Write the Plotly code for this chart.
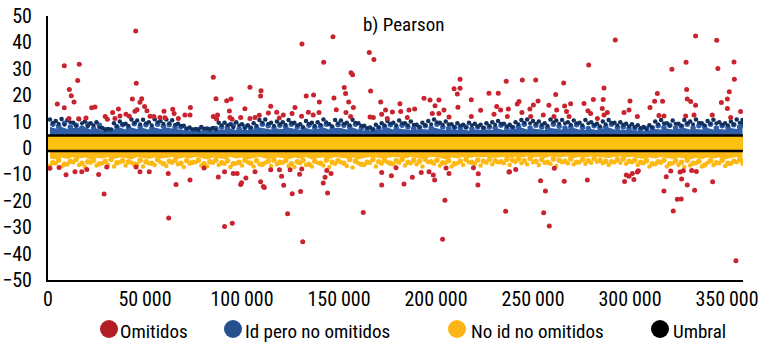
import plotly.graph_objects as go

FONT = "Roboto Condensed, Liberation Sans Narrow, Arial Narrow, Roboto, sans-serif"

# values: x in thousands of observations, y = Pearson residual
red_x = [4.8,8.4,8.4,11,12,10.8,13.4,16.1,15.3,15.8,19.6,22.5,24.2,29.5,30.6,33.3,34.5,36.3,37.1,40.2,41.9,43.5,45.2,45.5,44.8,45.9,48.3,47.4,49.8,51,52.6,54.6,57.7,59.8,60.3,64.3,65,67.2,70.6,73.4,73.2,85.2,86.6,85.2,87.4,86.9,92.1,94.3,93.5,93.8,94.9,99.3,101.5,104.1,104.1,106.7,108.9,109.8,109.6,113.6,114.8,117.9,119.2,121.3,125.8,127.3,130.7,130.9,133.1,134.2,136.9,136.7,139.7,139.9,142.1,146.9,147.4,148.6,152.7,153.4,155,153.6,156,157.4,156.2,157,165.6,168,166.3,166,167.7,171.5,172,
         174,177.5,181.4,181.8,186.1,189,174.9,185.2,193.8,196.9,201.5,199.5,198.1,204.1,201.5,206.7,212.4,209.3,212.4,211,211.3,218.2,218.2,223,227.3,232.1,236.2,231.3,233.3,229.9,237.3,236.8,244.5,251.4,242.8,241.9,244.3,248.4,252.6,250.2,248.8,255.3,258.2,261.7,265.8,262.2,260.8,266.3,269.4,267.3,268.6,276.3,278.7,281.1,278.3,279.7,283.2,286.6,286.2,285.7,286.6,288.3,292.4,296.9,299.5,300,303.8,310.3,312.7,316.8,314.1,314.9,317.5,321.6,328.9,333.8,344.7,345.3,353.6,353.8,329.2,329.5,331.3,333.8,328.7,333,342.4,347.1,350.2,351.2,350.2,351.9,357,
         9.3,13.9,17.4,26.1,28.9,47.4,52.2,62,66,73.2,62.2,87.8,91,95.5,97.5,99.3,99.8,102,106.7,109.6,111.5,111,120.4,121.5,125.9,129.7,130.2,123.5,91,95,131.3,141.9,142.8,144.1,145.9,172,172,162.5,
         177,183.5,187.8,192.4,196.4,198.6,199.3,206.7,204.6,203.4,221.8,221.6,237.6,235.9,253.9,256.4,255.5,258.4,266.1,278,297.2,298.1,299.5,302,301.2,303.8,318.7,317.5,322.3,324.4,326.4,326.6,329.5,333.3,325.8,321,334.2,342.6,354.6,
         1,5.7,20,30.3,45.4,80.4,114.8,119.3,124.8,130.8,143.7,179.4,205.2,219.3,237.9,241.1,261,304.3,327.5,331.8]
red_y = [16.7,31.2,15.2,22.2,19.8,11.2,17.4,31.7,25.6,11.1,11.4,15.2,15.5,11.9,10.9,13.4,11.2,14.8,12.1,12.8,12,18.6,44.3,24.5,13.9,14.5,18.7,17.3,15.7,14.1,12,11.9,11.6,13.9,11.5,14.7,13.1,11.2,12.5,15.3,12.5,26.8,18.7,11.9,12.5,11,17.9,18.6,14,11.6,10.9,11.6,14.9,23,11.2,11.6,12.4,21.7,19.7,13.3,15.8,13.5,11.4,12.5,13.1,15.3,12,39.4,19.7,13.5,20.1,12.5,13.4,17.4,32.5,42.1,18.9,14.5,22.9,20.6,17.4,13.4,11.9,15.3,28.5,27.7,36.2,33.5,21.6,11.7,11.6,17.4,12.8,
         14.4,13.6,16.8,13.8,14.4,14.8,11.2,11.6,18.8,18.2,18.2,16,13.1,14.4,13.1,11.7,26,22.4,22.6,20.5,15.4,18.3,11.9,14.3,20.7,20.7,25.3,15.7,14.4,12.8,14.8,11.9,25.8,25.8,17.6,16.7,13.4,14.8,17.8,16.3,11.9,12.5,16.2,20.3,24.6,14.4,11.9,15.9,16.8,13.8,11.9,16.9,31.4,18.4,14.1,13.1,11.2,22.7,18.4,15,12.5,13.4,40.9,13.4,14.4,17.8,11.9,15.3,17.7,17.7,20.6,12.3,12.1,29.8,32.5,42.4,40.8,30.1,32.6,26,22.2,18.6,17.6,16.2,12.1,12.5,12.5,17.2,18.6,21.3,15,11.6,13.8,
         -10.1,-9,-9,-10,-17.4,-9,-9,-9.7,-13.8,-12.1,-26.5,-11,-9,-9.7,-9.7,-13.8,-13.2,-11.4,-9,-12.8,-15,-14.6,-10.7,-14.1,-17.3,-9.9,-16.5,-24.9,-29.7,-28.5,-35.5,-13.3,-11.1,-17,-9.7,-9.3,-14,-24.4,
         -10.5,-13.6,-11.1,-9.3,-9,-10.2,-12.1,-9.7,-19.8,-34.6,-9.8,-14,-9.1,-24,-12.4,-16.3,-24.5,-29.5,-12.6,-12.1,-12.7,-10.2,-10.7,-11.9,-9.7,-9.1,-10.9,-16.3,-23.9,-19.4,-19.3,-11.7,-14,-16,-9.1,-8.7,-8.9,-12.8,-42.7,
         -7.7,-7.4,-8.1,-7.2,-7.2,-7.6,-8.2,-8.2,-8.2,-8,-8.5,-7.45,-7.6,-7.45,-9,-8.1,-7.7,-8.6,-8.6,-8.5]

dot_x = [1,4,7,10,13,16,19,22,25,28,31,34,37,40,43,46,49,52,55,58,61,64,67,70,73,76,79,82,85,88,91,94,97,100,103,106,109,112,115,118,
         121,124,127,130,133,136,139,142,145,148,151,154,157,160,163,166,169,172,175,178,181,184,187,190,193,196,199,202,205,208,211,214,217,220,223,226,229,232,235,238,
         241,244,247,250,253,256,259,262,265,268,271,274,277,280,283,286,289,292,295,298,301,304,307,310,313,316,319,322,325,328,331,334,337,340,343,346,349,352,355,358]
dot_x2 = [2.5,5.5,8.5,11.5,14.5,17.5,20.5,23.5,26.5,29.5,32.5,35.5,38.5,41.5,44.5,47.5,50.5,53.5,56.5,59.5,62.5,65.5,68.5,71.5,74.5,77.5,80.5,83.5,86.5,89.5,92.5,95.5,98.5,101.5,104.5,107.5,110.5,113.5,116.5,119.5,
          122.5,125.5,128.5,131.5,134.5,137.5,140.5,143.5,146.5,149.5,152.5,155.5,158.5,161.5,164.5,167.5,170.5,173.5,176.5,179.5,182.5,185.5,188.5,191.5,194.5,197.5,200.5,203.5,206.5,209.5,212.5,215.5,218.5,221.5,224.5,227.5,230.5,233.5,236.5,239.5,
          242.5,245.5,248.5,251.5,254.5,257.5,260.5,263.5,266.5,269.5,272.5,275.5,278.5,281.5,284.5,287.5,290.5,293.5,296.5,299.5,302.5,305.5,308.5,311.5,314.5,317.5,320.5,323.5,326.5,329.5,332.5,335.5,338.5,341.5,344.5,347.5,350.5,353.5,356.5,358.2]

blue_top = [10.8,10.2,11,10.6,9.6,10.9,10,9.4,9.8,7.6,7.2,9.4,10,9.2,10.8,10.4,10.7,9.8,10.9,10.2,10.8,10.5,9.2,8.4,7.8,7.2,8,7.4,7.6,9.6,9.6,9,9.8,9,8.6,9.4,10.6,10.8,9.6,10,
            9.8,10.6,9.6,9,10.2,9.6,9.8,10.8,9,10.6,10.4,9.6,10.7,9.4,8.4,7.8,8.8,9.4,10.2,9.6,10.4,9.4,10,8.8,9.6,10.2,10.8,9.6,10,9,9.4,8.8,9.6,9.2,8.8,9.4,9.8,10.2,9.2,8.8,
            9.8,10.6,10.8,10.2,10,9.4,10.8,10.4,10.6,9.8,10.4,9.6,10.6,9.8,9.2,10,10.6,9.6,9.8,9.2,9,8.6,8,8.6,10,10.6,9.4,10.4,9.2,10.6,10,10.8,9.4,10.2,10.7,9.8,9.4,10,10.8,10.6]
blue_dark2 = [9.6,9.2,8.8,9.8,8.4,9.4,8.2,8.6,7.8,6.8,7,8.2,9,8.4,9.6,9,9.4,8.6,9.8,9.2,9.4,8.8,8.4,7.4,7,6.8,7.4,7,7,8.6,8.6,7.8,8.6,7.6,7.8,8.4,9.6,9.2,8.4,9,
              8.8,9.6,8.6,8,9.2,8.4,8.8,9.8,8.2,9.4,9.2,8.6,9.6,8.4,7.6,7,8,8.6,9.2,8.6,9.4,8.6,8.8,8,8.6,9,9.8,8.8,9,8,8.4,7.8,8.6,8.2,7.8,8.4,8.8,9.2,8.2,8,
              9,9.6,9.4,9.2,8.8,8.4,9.8,9.2,9.4,8.8,9.4,8.6,9.4,8.8,8.2,9,9.6,8.6,8.8,8.2,8,7.6,7.2,7.8,9,9.4,8.4,9.2,8.4,9.4,9,9.6,8.6,9.2,9.4,8.8,8.6,9,9.6,9.4]
blue_mid = [9,8.2,9.4,8,8.6,7.6,9,7.4,8.6,7,6.8,8,8.8,7.6,9.2,8,8.8,7.4,9,8.2,8.8,7.8,8,7,6.8,7,6.8,7,7.4,8,7.6,8.6,7.2,8,7.4,7.6,9,8.4,7.6,8.6,
            8,9,8,7.4,8.6,7.8,8.2,9,7.4,8.8,8.6,8,9,7.6,7,7,7.4,8,8.8,7.6,8.6,8,7.4,7.8,8.4,7.6,9,8,7.4,7.8,7.6,8,7.2,8,7.4,8,7.6,8.6,7.4,7.8,
            8,9,7.6,8.6,8,7.6,9,8.2,7.6,8,8.8,7.8,7.4,8.4,7.6,8,9,7.8,8,7.4,7.6,7,7.4,7.6,8.4,7.8,8.6,7.6,8.2,9,7.6,8.4,8,9,7.6,8.4,7.8,8.8,8,8.6]
blue_edge = [8,7.4,8,7.2,7.6,7.8,8,7,7.4,6.6,6.4,7,7.8,7,7.8,7.2,7.6,7,7.8,7.2,7.8,7.4,7,6.6,6.4,6.6,6.4,6.6,6.6,7,7,7.4,6.8,7,6.8,7,7.8,7.4,7,7.4,
             7.2,7.8,7.2,6.8,7.6,7,7.2,7.8,7,7.6,7.6,7,7.8,7,6.6,6.4,6.8,7,7.8,7,7.4,7,6.8,7,7.2,7,7.8,7.2,6.8,7,6.8,7,6.6,7,6.8,7,6.8,7.4,6.8,7,
             7.2,7.8,7,7.4,7,6.8,7.6,7.2,7,7.2,7.6,7,6.8,7.2,6.8,7.2,7.8,7,7,6.8,6.8,6.6,6.4,6.8,7.2,7,7.4,7,7.2,7.6,7,7.2,7,7.6,7,7.2,7,7.6,7.2,7.6]

yellow_edge = [-4,-4.4,-3.6,-4.2,-3.4,-4,-3.6,-4.4,-3.8,-4,-3.4,-4.2,-3.6,-3.8,-4.4,-3.4,-3.8,-4.2,-3.6,-4,-3.8,-3.4,-4.2,-3.6,-4,-3.4,-3.8,-4.4,-3.6,-3.8,-4.2,-3.4,-4,-3.6,-4.4,-3.8,-3.4,-4,-4.2,-3.6,
               -3.8,-4.4,-3.6,-4,-3.4,-4.4,-3.8,-3.6,-4.2,-3.4,-3.8,-4,-3.6,-4.4,-3.8,-3.4,-3.6,-4,-3.8,-3.4,-3.6,-4,-3.4,-3.8,-4.2,-3.6,-3.4,-3.8,-4.4,-3.6,-4,-3.4,-3.8,-3.4,-3.6,-3.4,-3.8,-3.6,-3.4,-3.8,
               -3.4,-3.6,-3.2,-3.6,-3.4,-3.8,-3.2,-3.6,-3.4,-3.2,-3.8,-3.4,-3.6,-3.2,-3.4,-3.6,-3.8,-3.4,-3.2,-3.6,-3.4,-3.8,-4.2,-3.6,-4,-3.4,-3.8,-4.2,-3.6,-4,-4.4,-3.8,-4.2,-3.6,-4,-3.6,-4.4,-3.8,-3.4,-3.6]
yellow_mid = [-5.6,-4.6,-6.2,-5,-4.4,-5.8,-5.2,-4.6,-6,-5,-4.4,-5.6,-4.8,-5.2,-6.2,-4.6,-5.2,-5.8,-4.4,-6,-5,-4.6,-5.8,-4.8,-5.4,-4.6,-6,-5.2,-4.6,-5.6,-4.8,-6,-5.4,-4.6,-5.8,-4.8,-6.2,-5,-4.6,-5.4,
              -4.8,-6,-5.2,-4.6,-6.2,-5,-5.8,-4.6,-5.4,-4.8,-5.8,-4.4,-5,-6.2,-5.4,-4.4,-5.2,-4.6,-5.8,-4.8,-4.4,-5.4,-4.6,-5,-4.4,-5.2,-4.6,-5.6,-4.8,-6,-5,-4.4,-5.4,-4.6,-5,-4.4,-4.8,-5.2,-4.4,-4.6,
              -4.2,-4.8,-4,-5,-4.4,-5.4,-4.2,-4.6,-5,-4.2,-5.4,-4.4,-4.8,-4,-4.6,-5,-5.2,-4.4,-4.2,-5,-4.6,-5.4,-4.8,-6,-5.2,-4.6,-6,-4.8,-5.4,-4.6,-5.8,-5,-6.4,-4.8,-5.6,-4.6,-5.8,-5,-4.4,-4.8]
yellow_low = [-6.8,-5.8,-7,-6.2,-5.4,-6.4,-7.2,-5.6,-6.6,-5.8,-6.4,-7,-5.4,-6.6,-5.6,-6.2,-7,-5.8,-6.4,-5.4,-6.8,-5.6,-6.2,-7.2,-6,-5.4,-6.6,-7,-5.6,-6.4,-6,-7.2,-5.8,-6.6,-5.4,-7,-6.2,-5.6,-6.8,-6.2,
              -5.6,-6.8,-7.2,-5.8,-6.4,-7,-5.6,-6.6,-7.2,-6,-5.4,-6.8,-7.4,-5.8,-6.4,-5.6,-7,-6,-5.4,-6.2,-5.6,-6.6,-5.8,-6.2,-7,-5.4,-6,-6.6,-5.6,-7,-5.8,-6.4,-5.4,-6,-6.6,-5.6,-6.2,-5.4,-5.8,-6.4,
              -5.2,-5.8,-6.2,-5.4,-6.4,-5.6,-6,-6.8,-5.4,-5.8,-6.2,-5.4,-6,-5.6,-5.2,-5.8,-6.4,-5.4,-5.6,-6,-5.4,-6.4,-5.8,-7,-6.2,-5.6,-7,-5.8,-6.4,-7.2,-6.6,-5.8,-7,-5.6,-6.4,-5.8,-6.8,-6,-5.4,-6]

umbral_x = [0, 358.2]
umbral_hi = [4.7, 4.7]
umbral_lo = [-1.1, -1.1]

x_ticks = [0, 50000, 100000, 150000, 200000, 250000, 300000, 350000]
x_labels = ["0", "50\u2009000", "100\u2009000", "150\u2009000", "200\u2009000", "250\u2009000", "300\u2009000", "350\u2009000"]
y_ticks = [50, 40, 30, 20, 10, 0, -10, -20, -30, -40, -50]
y_labels = ["50", "40", "30", "20", "10", "0", "\u221210", "\u221220", "\u221230", "\u221240", "\u221250"]

legend_names = ["Omitidos", "Id pero no omitidos", "No id no omitidos", "Umbral"]
legend_colors = ["#B31E25", "#27508F", "#FDB515", "#000000"]
legend_dot_px = [109, 233, 457, 660]
legend_text_px = [120, 245, 471, 673]

RED, BLUE, NAVY, YEL, YEL2 = "#C8232E", "#2F5DA6", "#12305C", "#FDB913", "#FDC20F"

def k(v):
    return [a * 1000 for a in v]

fig = go.Figure()
fig.add_trace(go.Scatter(x=k(dot_x), y=blue_edge, mode="lines", fill="tozeroy", fillcolor=BLUE,
                         line=dict(color=BLUE, width=0), name="Id pero no omitidos (masa)", showlegend=False))
fig.add_trace(go.Scatter(x=k(dot_x2), y=blue_mid, mode="markers", marker=dict(color=BLUE, size=5.5),
                         name="Id pero no omitidos", showlegend=False))
fig.add_trace(go.Scatter(x=k(dot_x2), y=blue_dark2, mode="markers", marker=dict(color=NAVY, size=4),
                         name="Id pero no omitidos", showlegend=False))
fig.add_trace(go.Scatter(x=k(dot_x), y=blue_top, mode="markers", marker=dict(color=NAVY, size=4.5),
                         name="Id pero no omitidos", showlegend=False))
fig.add_trace(go.Scatter(x=k(dot_x), y=yellow_edge, mode="lines", fill="tozeroy", fillcolor=YEL,
                         line=dict(color=YEL, width=0), name="No id no omitidos (masa)", showlegend=False))
fig.add_trace(go.Scatter(x=k(dot_x2), y=yellow_mid, mode="markers", marker=dict(color=YEL, size=5.5),
                         name="No id no omitidos", showlegend=False))
fig.add_trace(go.Scatter(x=k(dot_x), y=yellow_low, mode="markers", marker=dict(color=YEL, size=4.5),
                         name="No id no omitidos", showlegend=False))
fig.add_trace(go.Scatter(x=k(red_x), y=red_y, mode="markers", marker=dict(color=RED, size=5),
                         name="Omitidos", showlegend=False))
fig.add_trace(go.Scatter(x=k(umbral_x), y=umbral_hi, mode="lines", line=dict(color="#000000", width=2.5),
                         name="Umbral", showlegend=False))
fig.add_trace(go.Scatter(x=k(umbral_x), y=umbral_lo, mode="lines", line=dict(color="#000000", width=2.5),
                         fill="tonexty", fillcolor=YEL2, name="Umbral", showlegend=False))

L, R, T, B = 48, 25, 16, 62
W, H = 768, 342
pw, ph = W - L - R, H - T - B
def xp(px): return (px - L) / pw
def yp(py): return (H - B - py) / ph

annotations = [dict(text="b) Pearson", xref="paper", yref="paper", x=xp(403), y=yp(25), showarrow=False,
                    xanchor="center", yanchor="middle",
                    font=dict(family=FONT, size=19, color="#000000"))]
shapes = []
for name, col, dx, tx in zip(legend_names, legend_colors, legend_dot_px, legend_text_px):
    annotations.append(dict(text=name, xref="paper", yref="paper", x=xp(tx), y=yp(331), xanchor="left",
                            yanchor="middle", xshift=-2, showarrow=False,
                            font=dict(family=FONT, size=19, color="#000000")))
    shapes.append(dict(type="circle", xref="paper", yref="paper", xsizemode="pixel", ysizemode="pixel",
                       xanchor=xp(dx), yanchor=yp(329), x0=-9, x1=9, y0=-9, y1=9,
                       fillcolor=col, line=dict(width=0)))

fig.update_layout(
    width=W, height=H, margin=dict(l=L, r=R, t=T, b=B, pad=0, autoexpand=False),
    paper_bgcolor="#FFFFFF", plot_bgcolor="#FFFFFF", showlegend=False,
    font=dict(family=FONT, color="#000000"),
    annotations=annotations, shapes=shapes,
    xaxis=dict(range=[0, 358250], tickmode="array", tickvals=x_ticks, ticktext=x_labels, showgrid=False,
               zeroline=False, showline=True, linecolor="#000000", linewidth=2, ticks="", automargin=False,
               tickfont=dict(family=FONT, size=20), ticklabelstandoff=0, tickangle=0),
    yaxis=dict(range=[-50, 50], tickmode="array", tickvals=y_ticks, ticktext=y_labels, showgrid=False,
               zeroline=False, showline=True, linecolor="#000000", linewidth=2, ticks="", automargin=False,
               tickfont=dict(family=FONT, size=20), ticklabelstandoff=10),
)

fig.write_html("out.html", config=dict(displayModeBar=False),
               post_script="document.body.style.margin='0';document.body.style.overflow='hidden';")
